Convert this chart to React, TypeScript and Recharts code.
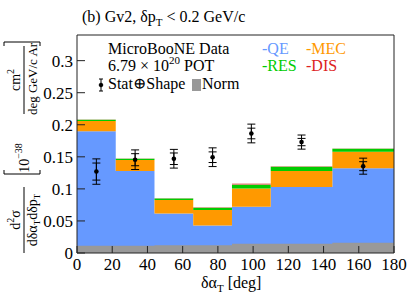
import React from 'react';
import {
  ComposedChart,
  Area,
  Scatter,
  ErrorBar,
  XAxis,
  YAxis,
  ReferenceArea,
} from 'recharts';

// bin edges in delta alpha_T [deg]
const binEdges = [0, 22, 44, 66, 88, 110, 145, 180];
const binCenters = [11, 33, 55, 77, 99, 127.5, 162.5];

// stacked MC prediction per bin [1e-38 cm2 / (deg GeV/c Ar)]
const qeValues = [0.19, 0.128, 0.0615, 0.043, 0.072, 0.103, 0.132];
const mecValues = [0.016, 0.017, 0.021, 0.024, 0.0285, 0.025, 0.026];
const resValues = [0.002, 0.002, 0.0026, 0.0035, 0.006, 0.0065, 0.0045];
const disValues = [0.0003, 0.0003, 0.0003, 0.0008, 0.0018, 0.0008, 0.0004];
const normValues = [0.0115, 0.0115, 0.012, 0.012, 0.0145, 0.0145, 0.016];

// data points
const dataValues = [0.127, 0.1455, 0.147, 0.1494, 0.1864, 0.173, 0.1354];
const totalErrors = [0.0198, 0.0153, 0.0146, 0.0146, 0.0146, 0.011, 0.0125];
const statErrors = [0.0133, 0.0094, 0.009, 0.0083, 0.0083, 0.0057, 0.007];

const xTicks = [0, 20, 40, 60, 80, 100, 120, 140, 160, 180];
const yTicks = [0, 0.05, 0.1, 0.15, 0.2, 0.25, 0.3];

const COLORS = {
  QE: '#6699ff',
  MEC: '#ff9900',
  RES: '#00cc00',
  DIS: '#dd2222',
  NORM: '#999999',
  FRAME: '#222222',
};

const FONT = 'Liberation Serif, Times New Roman, DejaVu Serif, serif';
const serif = { fontFamily: FONT };

// one row per bin edge; the last edge repeats the last bin so the step closes
const histData = binEdges.map((edge, i) => {
  const b = Math.min(i, qeValues.length - 1);
  return {
    x: edge,
    qe: qeValues[b],
    mec: mecValues[b],
    res: resValues[b],
    dis: disValues[b],
    norm: normValues[b],
  };
});

const pointData = binCenters.map((x, i) => ({
  x,
  y: dataValues[i],
  tot: totalErrors[i],
  stat: statErrors[i],
}));

const formatY = (v: number) => String(Number(v.toFixed(2)));

const YTick = (props: any) => {
  const { x, y, payload } = props;
  const ax = x + 4;
  return (
    <g>
      <line x1={ax} x2={ax + 8} y1={y} y2={y} stroke={COLORS.FRAME} />
      <text x={x} y={y} dy="0.35em" textAnchor="end" style={serif} fontSize={17} fill="#000">
        {formatY(payload.value)}
      </text>
    </g>
  );
};

const XTick = (props: any) => {
  const { x, y, payload } = props;
  const ay = y - 5;
  return (
    <g>
      <line x1={x} x2={x} y1={ay} y2={ay - 7} stroke={COLORS.FRAME} />
      <text x={x} y={ay + 17} textAnchor="middle" style={serif} fontSize={17} fill="#000">
        {payload.value}
      </text>
    </g>
  );
};

const DataDot = (props: any) => {
  const { cx, cy } = props;
  return <circle cx={cx} cy={cy} r={2.3} fill="#000" />;
};

const Overlay = () => (
  <svg
    width={407}
    height={295}
    style={{ position: 'absolute', left: 0, top: 0, pointerEvents: 'none', fontFamily: FONT }}
  >
    {/* title */}
    <text x={82} y={22} fontSize={16} fill="#000">
      (b) Gv2, δp<tspan fontSize={11} dy={4}>T</tspan>
      <tspan dy={-4}> &lt; 0.2 GeV/c</tspan>
    </text>

    {/* legend */}
    <text x={108} y={54} fontSize={16} fill="#000">MicroBooNE Data</text>
    <text x={108} y={71} fontSize={16} fill="#000">
      6.79 × 10<tspan fontSize={11} dy={-7}>20</tspan>
      <tspan dy={7}> POT</tspan>
    </text>
    <g stroke="#000">
      <line x1={101} x2={101} y1={79} y2={91} />
      <line x1={99} x2={103} y1={79} y2={79} />
      <line x1={99} x2={103} y1={91} y2={91} />
      <circle cx={101} cy={85} r={1.8} fill="#000" />
    </g>
    <text x={108} y={89} fontSize={16} fill="#000">Stat⊕Shape</text>
    <rect x={192} y={79} width={9} height={12} fill={COLORS.NORM} />
    <text x={202} y={89} fontSize={16} fill="#000">Norm</text>
    <text x={262} y={54} fontSize={16} fill={COLORS.QE}>-QE</text>
    <text x={306} y={54} fontSize={16} fill={COLORS.MEC}>-MEC</text>
    <text x={262} y={71} fontSize={16} fill={COLORS.RES}>-RES</text>
    <text x={306} y={71} fontSize={16} fill={COLORS.DIS}>-DIS</text>

    {/* x axis title */}
    <text x={201} y={288} fontSize={16} fill="#000">
      δα<tspan fontSize={11} dy={4}>T</tspan>
      <tspan dy={-4}> [deg]</tspan>
    </text>

    {/* y axis title, rotated */}
    <g transform="rotate(-90)" fontSize={14} fill="#000">
      <text x={-220} y={20} textAnchor="middle">
        d<tspan fontSize={10} dy={-6}>2</tspan>
        <tspan dy={6}>σ</tspan>
      </text>
      <line x1={-253} x2={-187} y1={24} y2={24} stroke="#000" />
      <text x={-220} y={37} textAnchor="middle">
        dδα<tspan fontSize={9} dy={3}>T</tspan>
        <tspan dy={-3}>dδp</tspan>
        <tspan fontSize={9} dy={3}>T</tspan>
      </text>
      <path d="M -170 4 L -174 4 L -174 40 L -170 40" stroke="#000" fill="none" />
      <text x={-158} y={29} textAnchor="middle">
        10<tspan fontSize={10} dy={-7}>−38</tspan>
      </text>
      <text x={-80} y={20} textAnchor="middle">
        cm<tspan fontSize={10} dy={-6}>2</tspan>
      </text>
      <line x1={-114} x2={-46} y1={24} y2={24} stroke="#000" />
      <text x={-79} y={37} textAnchor="middle" fontSize={13}>deg GeV/c Ar</text>
      <path d="M -46 4 L -42 4 L -42 40 L -46 40" stroke="#000" fill="none" />
    </g>
  </svg>
);

export default function App() {
  return (
    <div style={{ position: 'absolute', left: 0, top: 0, width: 407, height: 295, background: '#fff' }}>
      <ComposedChart
        width={407}
        height={295}
        data={histData}
        margin={{ top: 35, right: 13, left: 0, bottom: 0 }}
      >
        <XAxis
          dataKey="x"
          type="number"
          domain={[0, 180]}
          ticks={xTicks}
          allowDataOverflow
          height={42}
          tickSize={0}
          tickMargin={5}
          axisLine={false}
          tick={<XTick />}
          interval={0}
        />
        <YAxis
          type="number"
          domain={[0, 0.34]}
          ticks={yTicks}
          allowDataOverflow
          width={77}
          tickSize={0}
          tickMargin={4}
          axisLine={false}
          tick={<YTick />}
          interval={0}
        />
        <Area type="stepAfter" dataKey="qe" stackId="mc" fill={COLORS.QE} fillOpacity={1} stroke="none" dot={false} activeDot={false} isAnimationActive={false} />
        <Area type="stepAfter" dataKey="mec" stackId="mc" fill={COLORS.MEC} fillOpacity={1} stroke="none" dot={false} activeDot={false} isAnimationActive={false} />
        <Area type="stepAfter" dataKey="res" stackId="mc" fill={COLORS.RES} fillOpacity={1} stroke="none" dot={false} activeDot={false} isAnimationActive={false} />
        <Area type="stepAfter" dataKey="dis" stackId="mc" fill={COLORS.DIS} fillOpacity={0.6} stroke="none" dot={false} activeDot={false} isAnimationActive={false} />
        <Area type="stepAfter" dataKey="norm" fill={COLORS.NORM} fillOpacity={1} stroke="none" dot={false} activeDot={false} isAnimationActive={false} />
        <Scatter data={pointData} dataKey="y" shape={<DataDot />} isAnimationActive={false}>
          <ErrorBar dataKey="tot" direction="y" width={4} stroke="#000" strokeWidth={1} />
          <ErrorBar dataKey="stat" direction="y" width={4} stroke="#000" strokeWidth={1} />
        </Scatter>
        <ReferenceArea x1={0} x2={180} y1={0} y2={0.34} fill="none" stroke={COLORS.FRAME} strokeWidth={1} ifOverflow="visible" />
      </ComposedChart>
      <Overlay />
    </div>
  );
}
